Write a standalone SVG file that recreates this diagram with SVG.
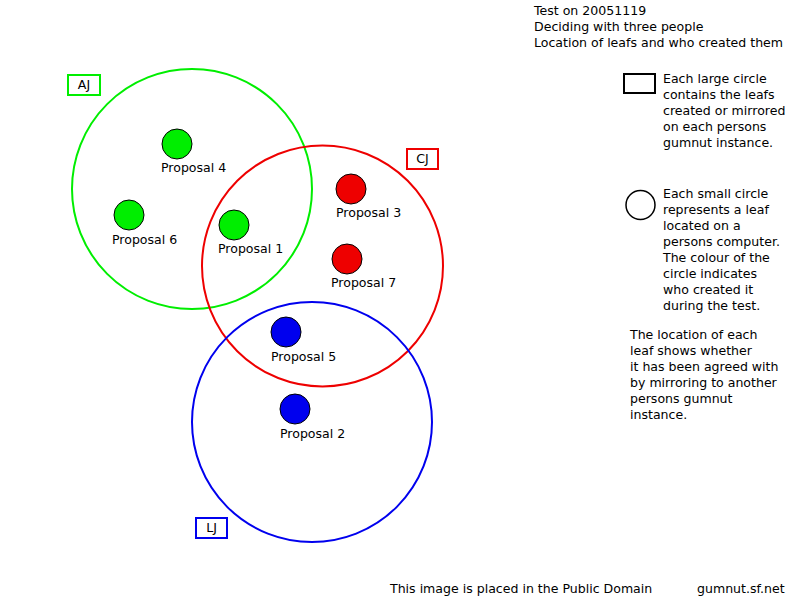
<svg xmlns="http://www.w3.org/2000/svg" width="800" height="600" viewBox="0 0 800 600">
<style>
text{font-family:"DejaVu Sans",sans-serif;font-size:12.55px;fill:#000}
.big{fill:none;stroke-width:2}
.leaf{stroke:#000;stroke-width:1}
.g{stroke:#00ee00}.r{stroke:#ee0000}.b{stroke:#0000ee}
.gf{fill:#00ee00}.rf{fill:#ee0000}.bf{fill:#0000ee}
.tag{fill:none;stroke-width:2}
.mid{text-anchor:middle}
</style>
<rect width="800" height="600" fill="#fff"/>
<g id="header">
<text x="534" y="15">Test on 20051119</text>
<text x="534" y="31">Deciding with three people</text>
<text x="534" y="47">Location of leafs and who created them</text>
</g>
<g id="circle-AJ"><circle class="big g" cx="192" cy="189" r="120"/><rect class="tag g" x="68" y="75" width="32" height="20"/><text class="mid" x="84" y="89">AJ</text></g>
<g id="circle-CJ"><circle class="big r" cx="322.5" cy="266" r="120.5"/><rect class="tag r" x="407" y="149" width="31" height="20"/><text class="mid" x="422.5" y="163">CJ</text></g>
<g id="circle-LJ"><circle class="big b" cx="312" cy="422" r="120"/><rect class="tag b" x="196" y="518" width="31" height="20"/><text class="mid" x="211.5" y="532">LJ</text></g>
<g id="connectors"></g>
<g id="p4"><circle class="leaf gf" cx="177" cy="144" r="15"/><text x="161" y="172">Proposal 4</text></g>
<g id="p6"><circle class="leaf gf" cx="129" cy="215" r="15"/><text x="112" y="244">Proposal 6</text></g>
<g id="p1"><circle class="leaf gf" cx="234" cy="225" r="15"/><text x="218" y="253">Proposal 1</text></g>
<g id="p3"><circle class="leaf rf" cx="351" cy="189" r="15"/><text x="336" y="217">Proposal 3</text></g>
<g id="p7"><circle class="leaf rf" cx="347" cy="259" r="15"/><text x="331" y="287">Proposal 7</text></g>
<g id="p5"><circle class="leaf bf" cx="286" cy="332" r="15"/><text x="271" y="361">Proposal 5</text></g>
<g id="p2"><circle class="leaf bf" cx="295" cy="409" r="15"/><text x="280" y="438">Proposal 2</text></g>
<g id="legend">
<rect x="624" y="74" width="31" height="19" fill="none" stroke="#000" stroke-width="2"/>
<text x="663" y="83">Each large circle</text>
<text x="663" y="99">contains the leafs</text>
<text x="663" y="115">created or mirrored</text>
<text x="663" y="131">on each persons</text>
<text x="663" y="147">gumnut instance.</text>
<circle cx="640.5" cy="205" r="14.5" fill="none" stroke="#000" stroke-width="1.5"/>
<text x="663" y="198">Each small circle</text>
<text x="663" y="214">represents a leaf</text>
<text x="663" y="230">located on a</text>
<text x="663" y="246">persons computer.</text>
<text x="663" y="262">The colour of the</text>
<text x="663" y="278">circle indicates</text>
<text x="663" y="294">who created it</text>
<text x="663" y="310">during the test.</text>
<text x="630" y="339">The location of each</text>
<text x="630" y="355">leaf shows whether</text>
<text x="630" y="371">it has been agreed with</text>
<text x="630" y="387">by mirroring to another</text>
<text x="630" y="403">persons gumnut</text>
<text x="630" y="419">instance.</text>
</g>
<g id="footer">
<text x="390" y="593">This image is placed in the Public Domain</text>
<text x="697" y="593">gumnut.sf.net</text>
</g>
</svg>
